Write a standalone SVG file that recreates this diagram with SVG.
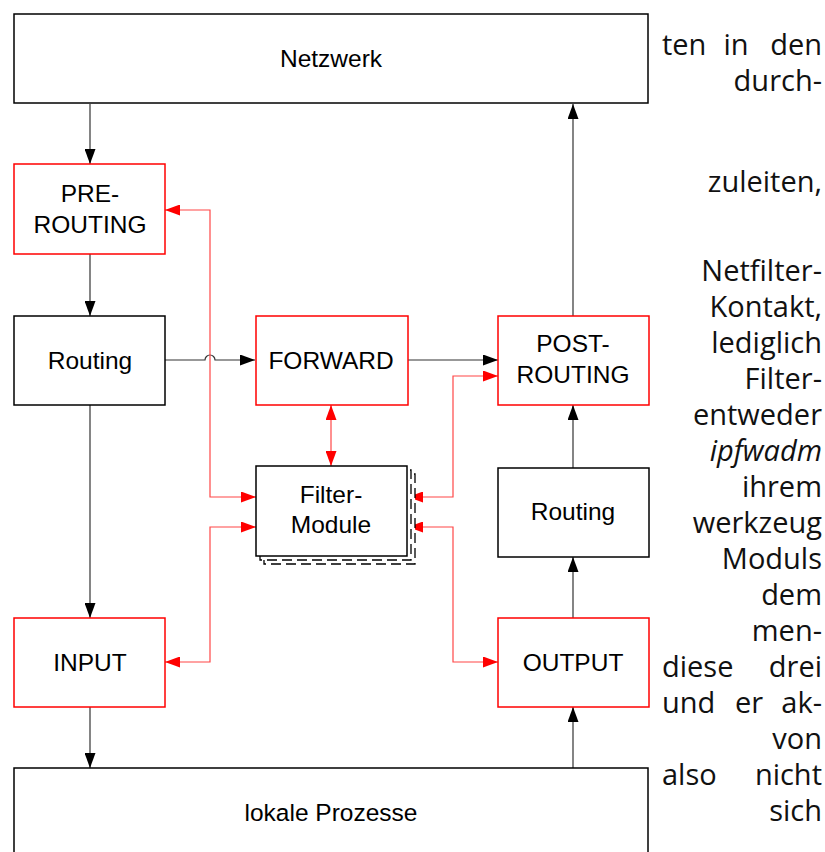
<svg xmlns="http://www.w3.org/2000/svg" width="825" height="852" viewBox="0 0 825 852">
  <style>
    .box { fill: #ffffff; stroke: #000000; stroke-width: 1.5; }
    .hook { fill: #ffffff; stroke: #ff0000; stroke-width: 1.5; }
    .stack { fill: #ffffff; stroke: #000000; stroke-width: 1.3; stroke-dasharray: 10 5; }
    .lbl { font-family: "Liberation Sans", Arial, sans-serif; font-size: 24.5px; fill: #000000; text-anchor: middle; }
    .flow { fill: none; stroke: #333333; stroke-width: 1.2; marker-end: url(#ahBlack); }
    .filter { fill: none; stroke: #ff4646; stroke-width: 1.2; marker-start: url(#ahRed); marker-end: url(#ahRed); }
    .body { font-family: "Open Sans", "DejaVu Sans", sans-serif; font-size: 29px; fill: #111111; }
    .r { text-anchor: end; }
  </style>
  <defs>
    <marker id="ahBlack" markerUnits="userSpaceOnUse" markerWidth="15" markerHeight="11" refX="15" refY="5.5" orient="auto">
      <path d="M0,0 L15,5.5 L0,11 Z" fill="#000000"/>
    </marker>
    <marker id="ahRed" markerUnits="userSpaceOnUse" markerWidth="15" markerHeight="11" refX="15" refY="5.5" orient="auto-start-reverse">
      <path d="M0,0 L15,5.5 L0,11 Z" fill="#ff0000"/>
    </marker>
  </defs>

  <!-- packet flow and filter-module links -->
  <g id="connectors">
    <path class="flow" d="M90,104 V164"/>
    <path class="flow" d="M90,254 V316"/>
    <path class="flow" d="M165,360 H205 A5,5 0 0 1 215,360 H255"/>
    <path class="flow" d="M408,360 H498"/>
    <path class="flow" d="M573,316 V104"/>
    <path class="flow" d="M573,468 V405"/>
    <path class="flow" d="M573,618 V557"/>
    <path class="flow" d="M573,768 V707"/>
    <path class="flow" d="M90,405 V618"/>
    <path class="flow" d="M90,707 V768"/>

    <path class="filter" d="M165,210 H210 V497 H256"/>
    <path class="filter" d="M165,662 H210 V527 H256"/>
    <path class="filter" d="M331,405 V466"/>
    <path class="filter" d="M498,376 H453 V497 H408"/>
    <path class="filter" d="M498,662 H453 V527 H408"/>
  </g>

  <g id="netzwerk">
    <rect class="box" x="14" y="14" width="634" height="89"/>
    <text class="lbl" x="331" y="67">Netzwerk</text>
  </g>

  <g id="prerouting">
    <rect class="hook" x="14" y="164" width="151" height="90"/>
    <text class="lbl" x="90" y="202">PRE-</text>
    <text class="lbl" x="90" y="233">ROUTING</text>
  </g>

  <g id="routing-in">
    <rect class="box" x="14" y="316" width="151" height="89"/>
    <text class="lbl" x="90" y="369">Routing</text>
  </g>

  <g id="forward">
    <rect class="hook" x="256" y="316" width="152" height="89"/>
    <text class="lbl" x="331" y="369">FORWARD</text>
  </g>

  <g id="postrouting">
    <rect class="hook" x="498" y="316" width="151" height="89"/>
    <text class="lbl" x="573" y="352">POST-</text>
    <text class="lbl" x="573" y="383">ROUTING</text>
  </g>

  <g id="filter-module">
    <rect class="stack" x="264" y="474" width="151" height="90"/>
    <rect class="stack" x="260" y="470" width="151" height="90"/>
    <rect class="box" x="256" y="466" width="151" height="90"/>
    <text class="lbl" x="331" y="503">Filter-</text>
    <text class="lbl" x="331" y="533">Module</text>
  </g>

  <g id="routing-out">
    <rect class="box" x="498" y="468" width="151" height="89"/>
    <text class="lbl" x="573" y="520">Routing</text>
  </g>

  <g id="input">
    <rect class="hook" x="14" y="618" width="151" height="89"/>
    <text class="lbl" x="90" y="671">INPUT</text>
  </g>

  <g id="output">
    <rect class="hook" x="498" y="618" width="151" height="89"/>
    <text class="lbl" x="573" y="671">OUTPUT</text>
  </g>

  <g id="lokale-prozesse">
    <rect class="box" x="14" y="768" width="634" height="110"/>
    <text class="lbl" x="331" y="821">lokale Prozesse</text>
  </g>

  <!-- column of running body text beside the figure -->
  <g id="body-text" class="body">
    <text x="662" y="55">ten</text>
    <text x="736" y="55" text-anchor="middle">in</text>
    <text class="r" x="822" y="55">den</text>
    <text class="r" x="822" y="91">durch-</text>
    <text class="r" x="822" y="192">zuleiten,</text>
    <text class="r" x="822" y="281">Netfilter-</text>
    <text class="r" x="822" y="317">Kontakt,</text>
    <text class="r" x="822" y="353">lediglich</text>
    <text class="r" x="822" y="389">Filter-</text>
    <text class="r" x="822" y="425">entweder</text>
    <text class="r" x="822" y="461" font-style="italic">ipfwadm</text>
    <text class="r" x="822" y="497">ihrem</text>
    <text class="r" x="822" y="533">werkzeug</text>
    <text class="r" x="822" y="569">Moduls</text>
    <text class="r" x="822" y="605">dem</text>
    <text class="r" x="822" y="641">men-</text>
    <text x="662" y="677">diese</text>
    <text class="r" x="822" y="677">drei</text>
    <text x="662" y="713">und</text>
    <text x="749" y="713" text-anchor="middle">er</text>
    <text class="r" x="822" y="713">ak-</text>
    <text class="r" x="822" y="749">von</text>
    <text x="662" y="785">also</text>
    <text class="r" x="822" y="785">nicht</text>
    <text class="r" x="822" y="821">sich</text>
  </g>
</svg>
